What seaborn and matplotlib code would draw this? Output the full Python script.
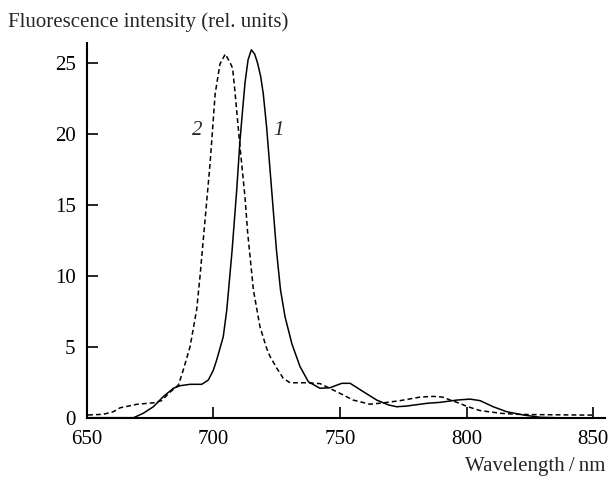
import matplotlib
matplotlib.use("Agg")
import matplotlib.pyplot as plt
import seaborn as sns
import pandas as pd

# Curve 1 (solid)
wl_1 = [650, 660, 668.5, 672.3, 676.3, 680.2, 684.2, 686.8, 690.8, 695.4, 698.0, 700.0,
        701.3, 703.9, 705.3, 707.4, 709.2, 710.5, 711.8, 712.5, 713.7, 715.0, 716.3, 717.4,
        718.7, 719.7, 721.0, 722.8, 724.9, 726.5, 728.3, 731.0, 734.2, 737.5, 742.1, 746.0, 750.7,
        754.0, 759.2, 764.5, 769.1, 772.4, 776.3, 784.2, 789.5, 796.1, 801.3, 805.3, 810.5,
        815.8, 822.4, 829.0, 835.0]
int_1 = [0, 0, 0, 0.31, 0.77, 1.48, 2.07, 2.25, 2.35, 2.35, 2.65, 3.35,
         4.06, 5.7, 7.6, 11.8, 16.0, 19.5, 22.2, 23.6, 25.2, 25.9, 25.6, 25.0,
         24.0, 22.8, 20.5, 16.5, 11.8, 9.0, 7.1, 5.2, 3.6, 2.53, 2.07, 2.11, 2.42,
         2.42, 1.83, 1.24, 0.9, 0.77, 0.82, 1.01, 1.08, 1.24, 1.31, 1.2, 0.77,
         0.42, 0.19, 0.03, 0]

# Curve 2 (dashed)
wl_2 = [650.5, 656.6, 660.5, 663.2, 666.0, 669.7, 677.0, 679.5, 682.9, 686.2, 688.1, 690.8,
        693.4, 694.7, 696.3, 698.7, 700.7, 702.6, 704.7, 706.6, 707.6, 708.5, 710.5, 712.5,
        713.5, 715.8, 718.4, 721.0, 722.4, 725.0, 727.6, 730.3, 736.8, 742.1, 748.7, 755.2,
        761.8, 766.5, 773.7, 781.6, 786.8, 790.5, 793.4, 797.4, 800.0, 805.3, 810.5, 813.2,
        819.7, 825.0, 850.0]
int_2 = [0.19, 0.24, 0.42, 0.7, 0.8, 0.94, 1.06, 1.2, 1.8, 2.3, 3.35, 5.0,
         7.6, 9.9, 13.1, 17.9, 22.8, 24.9, 25.6, 25.0, 24.6, 23.0, 19.1, 15.5,
         13.1, 9.0, 6.4, 4.9, 4.3, 3.5, 2.77, 2.46, 2.46, 2.4, 1.83, 1.24,
         0.95, 1.03, 1.2, 1.45, 1.5, 1.45, 1.25, 1.0, 0.8, 0.5, 0.38, 0.31,
         0.24, 0.22, 0.18]

x_ticks = [650, 700, 750, 800, 850]
y_ticks = [0, 5, 10, 15, 20, 25]

df = pd.concat([
    pd.DataFrame({"wl": wl_1, "val": int_1, "curve": "1"}),
    pd.DataFrame({"wl": wl_2, "val": int_2, "curve": "2"}),
], ignore_index=True)

sns.set_style("ticks")
plt.rcParams["font.family"] = ["Liberation Serif", "DejaVu Serif"]

fig = plt.figure(figsize=(6.09, 4.80), dpi=100)
ax = fig.add_axes([0.1424, 0.1298, 0.8510, 0.7812])

sns.lineplot(data=df, x="wl", y="val", style="curve", color="black",
             dashes={"1": "", "2": (3.2, 2.0)}, sort=False, estimator=None,
             legend=False, ax=ax, linewidth=1.1)

ax.set_xlim(650, 854.6)
ax.set_ylim(0, 26.4)
ax.set_xticks(x_ticks)
ax.set_yticks(y_ticks)
ax.tick_params(direction="in", length=8, width=1.2, labelsize=15, colors="black", pad=8)
ax.tick_params(axis="x", pad=9)
for s in ["top", "right"]:
    ax.spines[s].set_visible(False)
for s in ["left", "bottom"]:
    ax.spines[s].set_linewidth(1.5)
    ax.spines[s].set_color("black")
ax.set_xlabel("")
ax.set_ylabel("")

fig.text(8 / 609, 1 - 22 / 480, "Fluorescence intensity (rel. units)", fontsize=15,
         ha="left", va="center")
fig.text(605 / 609, 1 - 467 / 480, "Wavelength\u2009/\u2009nm", fontsize=15,
         ha="right", va="center")

ax.text(693.8, 20.2, "2", fontsize=15, style="italic", ha="center", va="center")
ax.text(725.6, 20.2, "1", fontsize=15, style="italic", ha="center", va="center")

fig.savefig("out.png", dpi=100)
